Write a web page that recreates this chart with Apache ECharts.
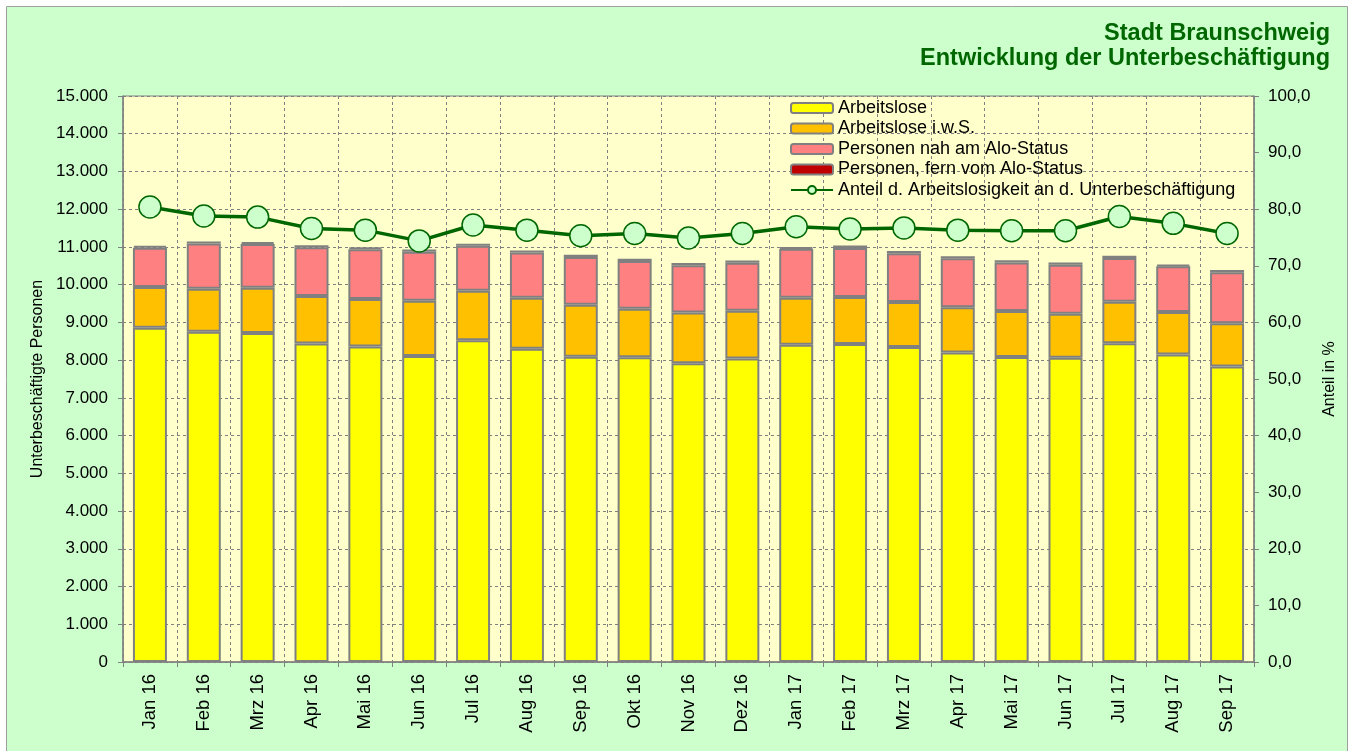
<!DOCTYPE html>
<html>
<head>
<meta charset="utf-8">
<script src="https://cdn.jsdelivr.net/npm/echarts@6/dist/echarts.min.js"></script>
<style>
html,body{margin:0;padding:0;background:#fff;}
#chart{width:1352px;height:751px;}
</style>
</head>
<body>
<div id="chart"></div>
<script>
const categories = ['Jan 16','Feb 16','Mrz 16','Apr 16','Mai 16','Jun 16','Jul 16','Aug 16','Sep 16','Okt 16','Nov 16','Dez 16','Jan 17','Feb 17','Mrz 17','Apr 17','Mai 17','Jun 17','Jul 17','Aug 17','Sep 17'];
const arbeitslose = [8860,8750,8720,8440,8360,8110,8530,8300,8090,8075,7920,8040,8410,8430,8350,8200,8080,8060,8450,8150,7830];
const arbeitsloseIwS = [1080,1140,1200,1260,1260,1465,1310,1350,1380,1290,1340,1270,1240,1240,1190,1200,1220,1170,1100,1125,1150];
const nahAmAloStatus = [1040,1200,1160,1290,1320,1300,1190,1200,1265,1265,1255,1270,1300,1305,1290,1300,1290,1300,1160,1210,1350];
const fernVomAloStatus = [50,55,50,55,50,55,55,55,60,60,60,60,45,60,60,55,55,55,55,45,60];
const anteil = [80.4,78.8,78.6,76.6,76.3,74.4,77.2,76.3,75.3,75.7,74.9,75.7,76.9,76.5,76.7,76.3,76.2,76.2,78.7,77.5,75.7];

const leftTicks = {min:0, max:15000, interval:1000};
const rightTicks = {min:0, max:100, interval:10};

const FONT = 'Liberation Sans, Arial, sans-serif';
const grey = '#808080';

function fmtThousands(v){ return String(v).replace(/\B(?=(\d{3})+(?!\d))/g,'.'); }

const barStyle = (color) => ({color: color, borderColor: grey, borderWidth: 2});

const chart = echarts.init(document.getElementById('chart'), null, {renderer:'canvas'});
chart.setOption({
  backgroundColor: '#ffffff',
  animation: false,
  textStyle: {fontFamily: FONT},
  graphic: [{
    type: 'rect', z: -10, silent: true,
    shape: {x: 6.5, y: 6.5, width: 1341, height: 800},
    style: {fill: '#ccffcc', stroke: '#a0a0a0', lineWidth: 1}
  },{
    type: 'text', silent: true, z: 10,
    x: 1330, y: 21,
    style: {
      text: 'Stadt Braunschweig\nEntwicklung der Unterbeschäftigung',
      align: 'right', verticalAlign: 'top',
      font: 'bold 23.5px ' + FONT,
      lineHeight: 25,
      fill: '#006600'
    }
  }],
  legend: {
    orient: 'vertical',
    left: 785, top: 94,
    itemWidth: 42, itemHeight: 10, itemGap: 2.5,
    textStyle: {fontFamily: FONT, fontSize: 18, lineHeight: 18, color: '#000'},
    data: ['Arbeitslose','Arbeitslose i.w.S.','Personen nah am Alo-Status','Personen, fern vom Alo-Status','Anteil d. Arbeitslosigkeit an d. Unterbeschäftigung']
  },
  grid: {
    left: 123, top: 96, width: 1131, height: 566,
    show: true, backgroundColor: '#ffffcc', borderColor: grey, borderWidth: 1,
    containLabel: false
  },
  xAxis: {
    type: 'category',
    data: categories,
    boundaryGap: true,
    axisLine: {lineStyle: {color: grey, width: 1.5}},
    axisTick: {show: true, length: 5, lineStyle: {color: grey}},
    splitLine: {show: true, lineStyle: {color: grey, type: [3,3], width: 1}},
    axisLabel: {rotate: 90, fontSize: 18.5, color: '#000', margin: 12, fontFamily: FONT}
  },
  yAxis: [{
    type: 'value',
    min: leftTicks.min, max: leftTicks.max, interval: leftTicks.interval,
    position: 'left',
    name: 'Unterbeschäftigte Personen',
    nameLocation: 'middle', nameRotate: 90, nameGap: 70,
    nameTextStyle: {fontSize: 16, color: '#000', fontFamily: FONT},
    axisLine: {show: true, lineStyle: {color: grey, width: 1.5}},
    axisTick: {show: true, length: 5, lineStyle: {color: grey}},
    splitLine: {show: true, lineStyle: {color: grey, type: [3,3], width: 1}},
    axisLabel: {fontSize: 17, color: '#000', margin: 15, formatter: (v) => fmtThousands(v), fontFamily: FONT}
  },{
    type: 'value',
    min: rightTicks.min, max: rightTicks.max, interval: rightTicks.interval,
    position: 'right',
    name: 'Anteil in %',
    nameLocation: 'middle', nameRotate: 90, nameGap: 61,
    nameTextStyle: {fontSize: 16, color: '#000', fontFamily: FONT},
    axisLine: {show: true, lineStyle: {color: grey, width: 1.5}},
    axisTick: {show: true, length: 5, lineStyle: {color: grey}},
    splitLine: {show: false},
    axisLabel: {fontSize: 17, color: '#000', margin: 14, formatter: (v) => v.toFixed(1).replace('.', ','), fontFamily: FONT}
  }],
  series: [
    {name: 'Arbeitslose', type: 'bar', stack: 'u', barWidth: 34, data: arbeitslose, itemStyle: barStyle('#ffff00')},
    {name: 'Arbeitslose i.w.S.', type: 'bar', stack: 'u', barWidth: 34, data: arbeitsloseIwS, itemStyle: barStyle('#ffc000')},
    {name: 'Personen nah am Alo-Status', type: 'bar', stack: 'u', barWidth: 34, data: nahAmAloStatus, itemStyle: barStyle('#ff8080')},
    {name: 'Personen, fern vom Alo-Status', type: 'bar', stack: 'u', barWidth: 34, data: fernVomAloStatus, itemStyle: barStyle('#c00000')},
    {name: 'Anteil d. Arbeitslosigkeit an d. Unterbeschäftigung', type: 'line', yAxisIndex: 1, data: anteil,
      symbol: 'circle', symbolSize: 22, z: 5,
      lineStyle: {color: '#006600', width: 3.5},
      itemStyle: {color: '#ccffcc', borderColor: '#006600', borderWidth: 1.5}
    }
  ]
});
</script>
</body>
</html>
